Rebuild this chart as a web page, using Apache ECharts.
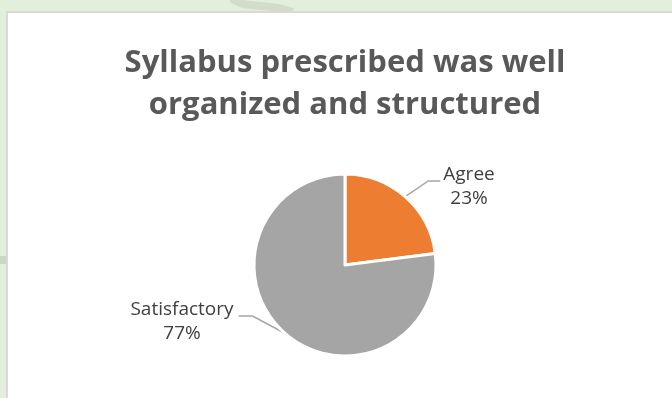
<!DOCTYPE html>
<html>
<head>
<meta charset="utf-8">
<script src="https://cdn.jsdelivr.net/npm/echarts@6/dist/echarts.min.js"></script>
<style>
  html, body { margin: 0; padding: 0; background: #e2efda; }
  #chart { width: 672px; height: 398px; }
</style>
</head>
<body>
<div id="chart"></div>
<script>
// Survey responses
const categories = ['Agree', 'Satisfactory'];
const shares = [23, 77];
const sliceColors = ['#ed7d31', '#a5a5a5'];
const titleLines = ['Syllabus prescribed was well', 'organized and structured'];

// Label anchor points (text centres) for each slice
const labelCentres = [[469, 187], [182, 322]];

const chart = echarts.init(document.getElementById('chart'), null, { renderer: 'canvas' });

const pieData = categories.map((name, i) => ({
  name: name,
  value: shares[i],
  itemStyle: { color: sliceColors[i] }
}));

chart.setOption({
  backgroundColor: '#e2efda',
  animation: false,
  graphic: [
    { type: 'rect', shape: { x: 7, y: 12, width: 680, height: 400 },
      style: { fill: '#ffffff', stroke: '#d9d9d9', lineWidth: 2 }, z: -10 },
    { type: 'bezierCurve', shape: { x1: 232, y1: -2, cpx1: 245, cpy1: 10, cpx2: 270, cpy2: 2, x2: 292, y2: 12 },
      style: { stroke: '#d3dccb', lineWidth: 8, fill: null }, z: -11 },
    { type: 'rect', shape: { x: 0, y: 256, width: 6, height: 8 },
      style: { fill: '#cdd5c5' }, z: -11 }
  ],
  title: {
    text: titleLines.join('\n'),
    left: 340,
    top: 37,
    textAlign: 'center',
    textStyle: {
      fontFamily: 'Open Sans',
      fontWeight: 'bold',
      fontSize: 31,
      lineHeight: 42,
      color: '#595959'
    }
  },
  series: [{
    type: 'pie',
    center: [345, 265],
    radius: 91,
    startAngle: 90,
    clockwise: true,
    data: pieData,
    itemStyle: { borderColor: '#ffffff', borderWidth: 3 },
    label: {
      show: true,
      formatter: '{b}\n{d}%',
      fontFamily: 'Open Sans',
      fontSize: 19,
      lineHeight: 24,
      color: '#404040',
      align: 'center'
    },
    labelLine: {
      show: true,
      length: 20,
      length2: 12,
      lineStyle: { color: '#a6a6a6', width: 1.5 }
    },
    labelLayout: function (params) {
      const c = labelCentres[params.dataIndex];
      const w = params.labelRect.width;
      const pts = params.labelLinePoints;
      const isLeft = c[0] < 345;
      const lineY = c[1] - 6;
      const endX = isLeft ? c[0] + w / 2 + 5 : c[0] - w / 2 - 3;
      const elbowX = isLeft ? endX + 14 : endX - 12;
      return {
        x: c[0],
        y: c[1],
        align: 'center',
        verticalAlign: 'middle',
        labelLinePoints: [pts[0], [elbowX, lineY], [endX, lineY]]
      };
    }
  }]
});
</script>
</body>
</html>
